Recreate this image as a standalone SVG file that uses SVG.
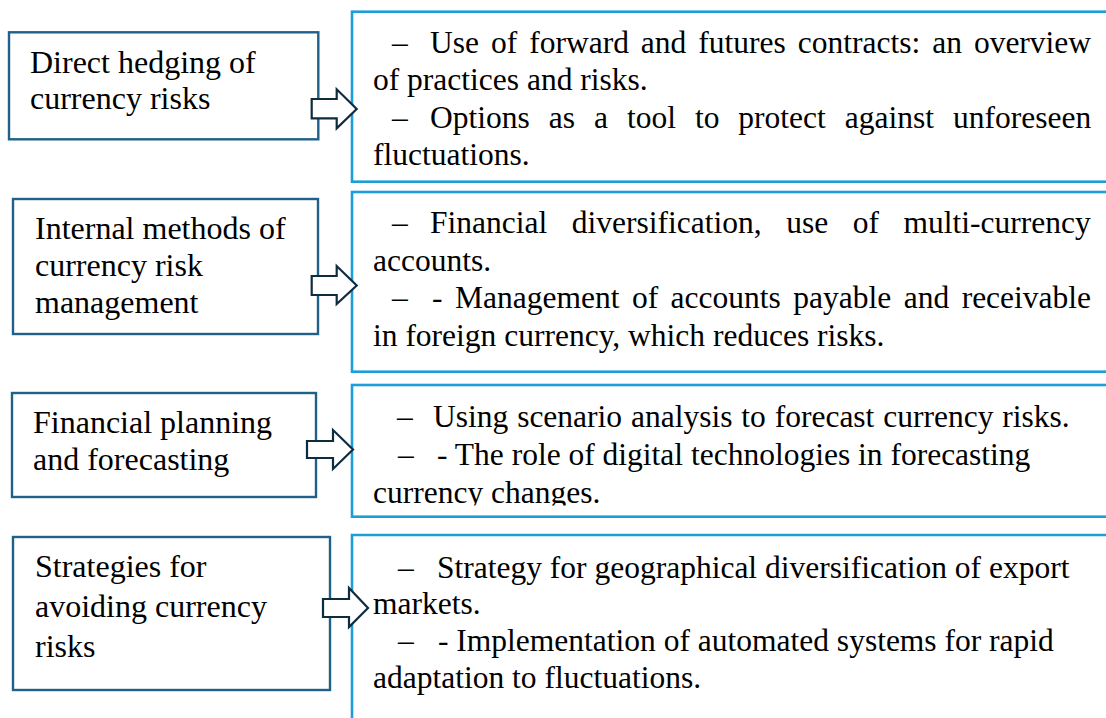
<svg xmlns="http://www.w3.org/2000/svg" width="1106" height="718" viewBox="0 0 1106 718">
  <style>
    .lbox { fill: #ffffff; stroke: #1f6188; stroke-width: 2.4; }
    .rbox { fill: #ffffff; stroke: #1c9fd9; stroke-width: 2.6; }
    .arrow { fill: #ffffff; stroke: #0f2c3f; stroke-width: 2.2; stroke-linejoin: miter; }
    text { font-family: 'Liberation Serif', 'DejaVu Serif', serif; fill: #000000; }
    .lt { font-size: 32px; }
    .rt { font-size: 31.5px; }
  </style>
  <defs>
    <clipPath id="clip-detail-3">
      <rect x="352" y="385" width="760" height="120.5"/>
    </clipPath>
  </defs>
  <rect width="1106" height="718" fill="#ffffff"/>

  <!-- detail panels (right column) -->
  <g id="detail-1">
    <rect class="rbox" x="352" y="11.7" width="770" height="170"/>
    <text class="rt" x="392" y="53">–</text>
    <text class="rt" x="430" y="53" word-spacing="4.1">Use of forward and futures contracts: an overview</text>
    <text class="rt" x="373" y="90">of practices and risks.</text>
    <text class="rt" x="392" y="128">–</text>
    <text class="rt" x="430" y="128" word-spacing="11.1">Options as a tool to protect against unforeseen</text>
    <text class="rt" x="373" y="165">fluctuations.</text>
  </g>

  <g id="detail-2">
    <rect class="rbox" x="352" y="192" width="770" height="179.7"/>
    <text class="rt" x="392" y="233">–</text>
    <text class="rt" x="430" y="233" word-spacing="16.7">Financial diversification, use of multi-currency</text>
    <text class="rt" x="373" y="270.5">accounts.</text>
    <text class="rt" x="392" y="308">–</text>
    <text class="rt" x="432" y="308" word-spacing="4.6">- Management of accounts payable and receivable</text>
    <text class="rt" x="373" y="345.5">in foreign currency, which reduces risks.</text>
  </g>

  <g id="detail-3">
    <rect class="rbox" x="352" y="385" width="770" height="131.7"/>
    <g clip-path="url(#clip-detail-3)">
      <text class="rt" x="397" y="427">–</text>
      <text class="rt" x="433" y="427" word-spacing="1">Using scenario analysis to forecast currency risks.</text>
      <text class="rt" x="398" y="465">–</text>
      <text class="rt" x="437" y="465">- The role of digital technologies in forecasting</text>
      <text class="rt" x="373" y="503">currency changes.</text>
    </g>
  </g>

  <g id="detail-4">
    <path class="rbox" d="M352,725 V535 H1115" fill="none"/>
    <text class="rt" x="398" y="578">–</text>
    <text class="rt" x="437" y="578">Strategy for geographical diversification of export</text>
    <text class="rt" x="373" y="614">markets.</text>
    <text class="rt" x="398" y="651">–</text>
    <text class="rt" x="438" y="651">- Implementation of automated systems for rapid</text>
    <text class="rt" x="373" y="688">adaptation to fluctuations.</text>
  </g>

  <!-- category boxes (left column) -->
  <g id="category-1">
    <rect class="lbox" x="9" y="32.3" width="309.3" height="107"/>
    <text class="lt" x="30" y="73">Direct hedging of</text>
    <text class="lt" x="30" y="109">currency risks</text>
  </g>

  <g id="category-2">
    <rect class="lbox" x="13" y="199" width="305" height="135"/>
    <text class="lt" x="35" y="239">Internal methods of</text>
    <text class="lt" x="35" y="276">currency risk</text>
    <text class="lt" x="35" y="313">management</text>
  </g>

  <g id="category-3">
    <rect class="lbox" x="12" y="393" width="304" height="104"/>
    <text class="lt" x="33" y="433">Financial planning</text>
    <text class="lt" x="33" y="470">and forecasting</text>
  </g>

  <g id="category-4">
    <rect class="lbox" x="13" y="537" width="317" height="153"/>
    <text class="lt" x="35" y="577">Strategies for</text>
    <text class="lt" x="35" y="617">avoiding currency</text>
    <text class="lt" x="35" y="657">risks</text>
  </g>

  <!-- block arrows linking each category to its details -->
  <g id="connectors">
    <path class="arrow" d="M311.7,99 H336.7 V89.3 L356.7,109 L336.7,128.3 V118.3 H311.7 Z"/>
    <path class="arrow" d="M311.7,276 H336.7 V266 L356.7,285.5 L336.7,304 V295 H311.7 Z"/>
    <path class="arrow" d="M307,441 H333 V430 L353,449.5 L333,469 V458 H307 Z"/>
    <path class="arrow" d="M323,599 H349 V588 L368,608 L349,627 V617 H323 Z"/>
  </g>
</svg>
